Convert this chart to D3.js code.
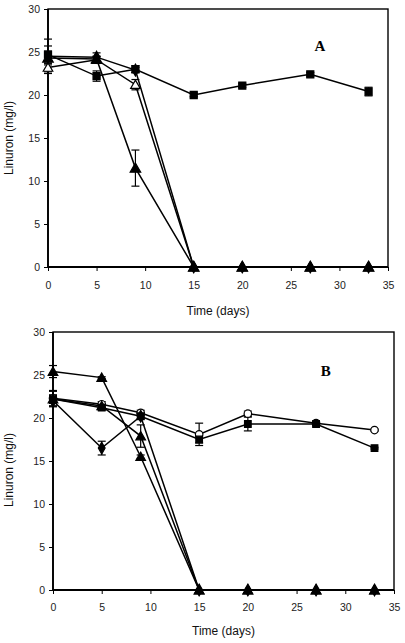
<!DOCTYPE html>
<html><head><meta charset="utf-8">
<script src="https://cdn.jsdelivr.net/npm/d3@7"></script>
<style>body{margin:0;background:#fff}svg{display:block}</style>
</head><body>
<script>
// ---- data ----
const days = [0, 5, 9, 15, 20, 27, 33];
const xTicks = [0, 5, 10, 15, 20, 25, 30, 35];
const yTicks = [0, 5, 10, 15, 20, 25, 30];

// Panel A
const aControl   = [24.7, 22.2, 23.0, 20.0, 21.1, 22.4, 20.4];
const aControlE  = [1.0, 0.6, 0.4, 0.2, 0.2, 0.2, 0.5];
const aDiamond   = [24.5, 24.4, 22.9, 0, 0, 0, 0];
const aDiamondE  = [2.0, 0.5, 0.3, 0, 0, 0, 0];
const aOpenTri   = [23.2, 24.1, 21.2, 0, 0, 0, 0];
const aOpenTriE  = [0.5, 0.4, 0.6, 0, 0, 0, 0];
const aFillTri   = [24.3, 24.2, 11.5, 0, 0, 0, 0];
const aFillTriE  = [0.8, 0.3, 2.1, 0, 0, 0, 0];

// Panel B
const bCircle    = [22.3, 21.6, 20.6, 18.1, 20.5, 19.4, 18.6];
const bCircleE   = [0.9, 0.3, 0.3, 1.3, 0.3, 0.2, 0.1];
const bSquare    = [22.2, 21.2, 20.2, 17.5, 19.3, 19.3, 16.5];
const bSquareE   = [0.9, 0.3, 0.3, 0.4, 0.8, 0.2, 0.1];
const bDiamond   = [22.0, 16.5, 20.2, 0, 0, 0, 0];
const bDiamondE  = [0.6, 0.8, 0.3, 0, 0, 0, 0];
const bTri2      = [22.2, 21.4, 17.9, 0, 0, 0, 0];
const bTri2E     = [0.5, 0.3, 1.3, 0, 0, 0, 0];
const bTri       = [25.4, 24.7, 15.5, 0, 0, 0, 0];
const bTriE      = [0.7, 0.1, 0.2, 0, 0, 0, 0];

const W = 405, H = 643;
const svg = d3.select("body").append("svg").attr("width", W).attr("height", H);

function symbolPath(type, size) {
  return d3.symbol().type(type).size(size)();
}

function panel(cfg) {
  const x = d3.scaleLinear().domain([0, 35]).range([cfg.left, cfg.right]);
  const y = d3.scaleLinear().domain([0, 30]).range([cfg.bottom, cfg.top]);
  const g = svg.append("g");

  // axes
  const xa = g.append("g").attr("transform", `translate(0,${cfg.bottom})`)
    .call(d3.axisBottom(x).tickValues(xTicks).tickSize(4).tickPadding(cfg.xPad));
  const ya = g.append("g").attr("transform", `translate(${cfg.left},0)`)
    .call(d3.axisLeft(y).tickValues(yTicks).tickSize(4).tickPadding(4));
  [xa, ya].forEach(a => {
    a.select(".domain").remove();
    a.selectAll("line").attr("stroke", "#000").attr("stroke-width", 1);
    a.selectAll("text").attr("font-family", "Liberation Sans, Arial, sans-serif")
      .attr("font-size", 10.5).attr("fill", "#222");
  });

  // frame
  g.append("rect").attr("x", cfg.left).attr("y", cfg.top)
    .attr("width", cfg.right - cfg.left).attr("height", cfg.bottom - cfg.top)
    .attr("fill", "none").attr("stroke", "#000").attr("stroke-width", 1.4);
  g.append("line").attr("x1", cfg.left).attr("x2", cfg.right)
    .attr("y1", cfg.bottom).attr("y2", cfg.bottom)
    .attr("stroke", "#000").attr("stroke-width", 2.2);
  g.append("line").attr("x1", cfg.left).attr("x2", cfg.left)
    .attr("y1", cfg.top).attr("y2", cfg.bottom)
    .attr("stroke", "#000").attr("stroke-width", 1.8);

  const line = d3.line().x((d, i) => x(days[i])).y(d => y(d));
  cfg.series.forEach(s => {
    g.append("path").datum(s.v).attr("d", line)
      .attr("fill", "none").attr("stroke", "#000").attr("stroke-width", 1.5);
  });
  // error bars
  cfg.series.forEach(s => {
    s.v.forEach((v, i) => {
      const e = s.e[i];
      if (!e) return;
      const cx = x(days[i]);
      g.append("line").attr("x1", cx).attr("x2", cx).attr("y1", y(v - e)).attr("y2", y(v + e))
        .attr("stroke", "#000").attr("stroke-width", 1.2);
      [v - e, v + e].forEach(t => g.append("line").attr("x1", cx - 4).attr("x2", cx + 4)
        .attr("y1", y(t)).attr("y2", y(t)).attr("stroke", "#000").attr("stroke-width", 1.2));
    });
  });
  // markers
  cfg.series.forEach(s => {
    s.v.forEach((v, i) => {
      g.append("path").attr("d", symbolPath(s.sym, s.size || 48))
        .attr("transform", `translate(${x(days[i])},${y(v) + (s.dy || 0)})`)
        .attr("fill", s.open ? "#fff" : "#000").attr("stroke", "#000").attr("stroke-width", 1.2);
    });
  });

  // labels
  g.append("text").attr("x", (cfg.left + cfg.right) / 2).attr("y", cfg.bottom + cfg.titleOff)
    .attr("text-anchor", "middle").attr("font-family", "Liberation Sans, Arial, sans-serif")
    .attr("font-size", 12).attr("fill", "#111").text("Time (days)");
  g.append("text").attr("transform", `translate(13,${cfg.ylabelY}) rotate(-90)`)
    .attr("text-anchor", "middle").attr("font-family", "Liberation Sans, Arial, sans-serif")
    .attr("font-size", 12).attr("fill", "#111").text("Linuron (mg/l)");
  g.append("text").attr("x", x(cfg.tagX)).attr("y", y(cfg.tagY))
    .attr("text-anchor", "middle").attr("font-family", "Liberation Serif, Times New Roman, serif")
    .attr("font-weight", "bold").attr("font-size", 15).attr("fill", "#000").text(cfg.tag);
}

panel({
  left: 48, right: 388, top: 9, bottom: 267, ylabelY: 138, xPad: 11, titleOff: 48,
  tag: "A", tagX: 28, tagY: 25.1,
  series: [
    { v: aControl, e: aControlE, sym: d3.symbolSquare, size: 50 },
    { v: aDiamond, e: aDiamondE, sym: d3.symbolDiamond, size: 40 },
    { v: aOpenTri, e: aOpenTriE, sym: d3.symbolTriangle, size: 40, open: true, dy: 1 },
    { v: aFillTri, e: aFillTriE, sym: d3.symbolTriangle, size: 48, dy: 1 }
  ]
});

panel({
  left: 53, right: 394, top: 332, bottom: 590, ylabelY: 470, xPad: 10, titleOff: 45,
  tag: "B", tagX: 28, tagY: 24.9,
  series: [
    { v: bCircle, e: bCircleE, sym: d3.symbolCircle, size: 44, open: true },
    { v: bSquare, e: bSquareE, sym: d3.symbolSquare, size: 44 },
    { v: bDiamond, e: bDiamondE, sym: d3.symbolDiamond, size: 40 },
    { v: bTri2, e: bTri2E, sym: d3.symbolTriangle, size: 40, dy: 1 },
    { v: bTri, e: bTriE, sym: d3.symbolTriangle, size: 40, dy: 1 }
  ]
});
</script>
</body></html>
